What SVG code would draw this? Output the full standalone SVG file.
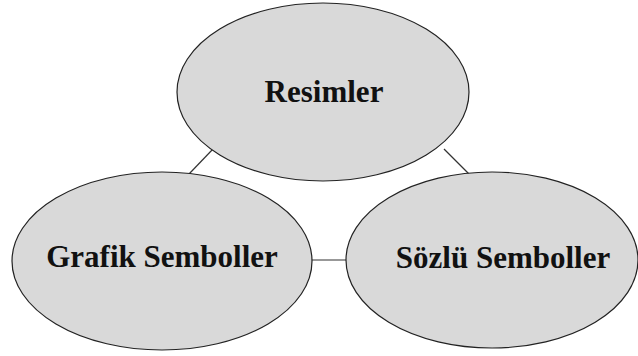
<svg xmlns="http://www.w3.org/2000/svg" width="638" height="356" viewBox="0 0 638 356">
<style>
.n{fill:#d9d9d9;stroke:#222;stroke-width:1.2}
.c{stroke:#333;stroke-width:1.2;fill:none}
.t{font-family:"Liberation Serif","Times New Roman",serif;font-weight:bold;font-size:31px;fill:#111;text-anchor:middle}
</style>
<rect width="638" height="356" fill="#fff"/>
<g id="connectors">
<line class="c" x1="213" y1="149" x2="189" y2="174"/>
<line class="c" x1="444" y1="149" x2="469" y2="174"/>
<line class="c" x1="311" y1="260" x2="347" y2="260"/>
</g>
<g id="resimler">
<ellipse class="n" cx="323" cy="92" rx="146" ry="89"/>
<text class="t" x="324" y="102">Resimler</text>
</g>
<g id="grafik">
<ellipse class="n" cx="162" cy="261" rx="150" ry="89"/>
<text class="t" x="162" y="267">Grafik Semboller</text>
</g>
<g id="sozlu">
<ellipse class="n" cx="492" cy="260" rx="146" ry="88"/>
<text class="t" x="503" y="268">Sözlü Semboller</text>
</g>
</svg>
